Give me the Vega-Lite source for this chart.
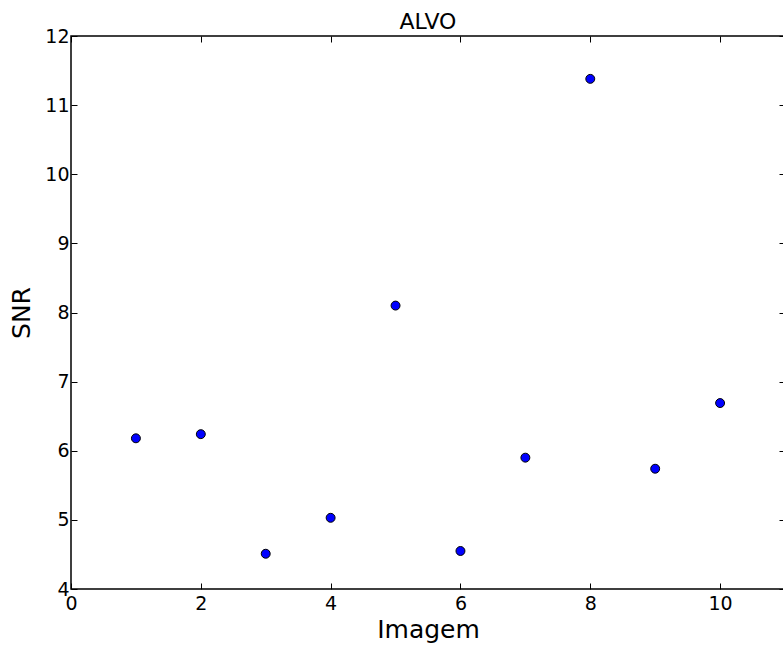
{
  "$schema": "https://vega.github.io/schema/vega-lite/v6.json",
  "autosize": "none",
  "padding": {"left": 71, "top": 36, "right": 0, "bottom": 60},
  "width": 714,
  "height": 553,
  "background": "white",
  "title": {"text": "ALVO", "font": "DejaVu Sans", "fontSize": 22, "fontWeight": "normal", "color": "black", "offset": -7},
  "config": {
    "view": {"stroke": "black", "strokeWidth": 1.5},
    "axis": {"labelFont": "DejaVu Sans", "titleFont": "DejaVu Sans", "labelFontSize": 19, "titleFontSize": 25, "titleFontWeight": "normal", "labelColor": "black", "titleColor": "black", "grid": false, "domain": false, "tickColor": "black", "tickSize": -6, "tickWidth": 1, "labelFlush": false, "labelOverlap": false}
  },
  "data": {"values": [
    {"Imagem": 1, "SNR": 6.18},
    {"Imagem": 2, "SNR": 6.24},
    {"Imagem": 3, "SNR": 4.51},
    {"Imagem": 4, "SNR": 5.03},
    {"Imagem": 5, "SNR": 8.10},
    {"Imagem": 6, "SNR": 4.55},
    {"Imagem": 7, "SNR": 5.90},
    {"Imagem": 8, "SNR": 11.38},
    {"Imagem": 9, "SNR": 5.74},
    {"Imagem": 10, "SNR": 6.69}
  ]},
  "layer": [
    {
      "mark": {"type": "point", "filled": true, "fill": "#0000ff", "stroke": "black", "strokeWidth": 1, "size": 80, "opacity": 1, "shape": "circle"},
      "encoding": {
        "x": {"field": "Imagem", "type": "quantitative", "scale": {"domain": [0, 11], "nice": false, "zero": false}, "axis": {"orient": "bottom", "values": [0, 2, 4, 6, 8, 10], "title": "Imagem", "labelPadding": 11, "titlePadding": 4}},
        "y": {"field": "SNR", "type": "quantitative", "scale": {"domain": [4, 12], "nice": false, "zero": false}, "axis": {"orient": "left", "values": [4, 5, 6, 7, 8, 9, 10, 11, 12], "title": "SNR", "labelPadding": 8, "titlePadding": 10}}
      }
    },
    {
      "mark": {"type": "point", "opacity": 0},
      "encoding": {
        "x": {"field": "Imagem", "type": "quantitative", "scale": {"domain": [0, 11], "nice": false, "zero": false}, "axis": {"orient": "top", "values": [0, 2, 4, 6, 8, 10], "labels": false, "title": null}},
        "y": {"field": "SNR", "type": "quantitative", "scale": {"domain": [4, 12], "nice": false, "zero": false}, "axis": {"orient": "right", "values": [4, 5, 6, 7, 8, 9, 10, 11, 12], "labels": false, "title": null}}
      }
    }
  ],
  "resolve": {"axis": {"x": "independent", "y": "independent"}}
}
